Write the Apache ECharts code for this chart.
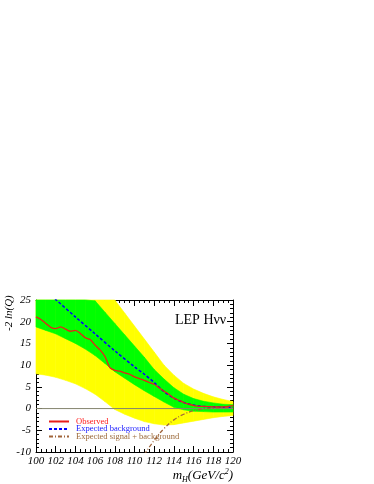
<!DOCTYPE html>
<html>
<head>
<meta charset="utf-8">
<script src="https://cdn.jsdelivr.net/npm/echarts@6/dist/echarts.min.js"></script>
<style>
  html, body { margin: 0; padding: 0; background: #fff; }
  #main { width: 374px; height: 484px; }
</style>
</head>
<body>
<div id="main"></div>
<script>
// band grid (m_H)
var massGrid = [100, 101, 102, 103, 104, 105, 106, 107, 108, 109, 110, 111, 112, 113, 114, 115, 116, 117, 118, 119, 120];
var yellowLow = [8.0, 7.7, 7.2, 6.5, 5.7, 4.6, 3.3, 1.6, -0.2, -1.3, -2.2, -3.0, -3.5, -3.8, -3.7, -3.3, -2.9, -2.5, -2.1, -1.8, -1.6];
var greenLow = [18.8, 18.0, 17.2, 16.1, 15.0, 13.7, 12.2, 10.4, 8.5, 7.0, 5.5, 4.1, 2.8, 1.5, 0.3, -0.3, -0.6, -0.7, -0.8, -0.8, -0.8];
var greenHigh = [31, 31, 31, 31, 31, 30, 24.8, 22.2, 19.6, 17.0, 14.4, 11.8, 9.0, 6.8, 4.8, 3.3, 2.3, 1.7, 1.3, 1.0, 0.9];
var yellowHigh = [36, 36, 36, 36, 36, 34, 32, 28, 25, 22, 19, 16, 13, 10, 7.7, 5.8, 4.5, 3.5, 2.7, 2.1, 1.6];

// observed -2ln(Q)
var obsMass = [100, 100.5, 101, 101.5, 102, 102.5, 103, 103.5, 104, 104.5, 105, 105.5, 106, 106.5, 107, 107.5, 108, 108.5, 109, 109.5, 110, 110.5, 111, 111.5, 112, 112.5, 113, 113.5, 114, 114.5, 115, 115.5, 116, 117, 118, 119, 120];
var observed = [21.1, 20.5, 19.6, 18.7, 18.4, 18.8, 18.3, 17.8, 18.0, 17.3, 16.3, 15.9, 14.6, 13.5, 12.0, 9.4, 8.8, 8.6, 8.2, 7.9, 7.3, 6.9, 6.5, 6.0, 5.6, 4.8, 4.0, 3.3, 2.4, 1.9, 1.4, 1.0, 0.7, 0.5, 0.4, 0.4, 0.7];

// expected background
var bkgMass = [100, 102, 104, 106, 108, 110, 111, 112, 113, 114, 115, 116, 117, 118, 119, 120];
var expBkg = [29.0, 25.1, 21.1, 17.2, 13.3, 9.6, 7.9, 6.0, 3.9, 2.4, 1.4, 0.8, 0.5, 0.4, 0.3, 0.3];

// expected signal + background
var sbMass = [111, 112, 113, 114, 115, 116, 117, 118, 119, 120];
var expSB = [-10.6, -7.3, -4.6, -2.6, -1.3, -0.5, -0.1, 0.1, 0.2, 0.2];

var xTicks = { min: 100, max: 120, interval: 2 };
var yTicks = { min: -10, max: 25, interval: 5 };

function pairs(xs, ys) {
    return xs.map(function (x, i) { return [x, ys[i]]; });
}
// one quad per grid step: [x0, lo0, hi0, x1, lo1, hi1]
function bandSegments(lo, hi) {
    var out = [];
    for (var i = 0; i < massGrid.length - 1; i++) {
        out.push([massGrid[i], lo[i], hi[i], massGrid[i + 1], lo[i + 1], hi[i + 1]]);
    }
    return out;
}
function bandSeries(name, lo, hi, color, z) {
    return {
        name: name, type: 'custom', silent: true, z: z,
        data: bandSegments(lo, hi),
        encode: { x: [0, 3], y: [1, 2, 4, 5] },
        renderItem: function (params, api) {
            var pts = [
                api.coord([api.value(0), api.value(1)]),
                api.coord([api.value(3), api.value(4)]),
                api.coord([api.value(3), api.value(5)]),
                api.coord([api.value(0), api.value(2)])
            ];
            var cs = params.coordSys;
            pts = echarts.graphic.clipPointsByRect(pts, { x: cs.x, y: cs.y, width: cs.width, height: cs.height });
            return {
                type: 'polygon',
                shape: { points: pts },
                style: { fill: color, stroke: color, lineWidth: 0.6 }
            };
        }
    };
}

var serif = '"Liberation Serif", "DejaVu Serif", serif';
var chart = echarts.init(document.getElementById('main'), null, { renderer: 'canvas' });

var axisCommon = {
    axisLine: { show: true, onZero: false, lineStyle: { color: '#000', width: 1 } },
    axisTick: { show: true, inside: true, length: 6, lineStyle: { color: '#000' } },
    splitLine: { show: false }
};

var option = {
    animation: false,
    backgroundColor: '#fff',
    grid: { left: 36, top: 300, width: 197, height: 152, containLabel: false },
    xAxis: [
        Object.assign({}, axisCommon, {
            type: 'value', min: xTicks.min, max: xTicks.max, interval: xTicks.interval,
            minorTick: { show: true, splitNumber: 4, length: 3, lineStyle: { color: '#000' } },
            axisLabel: { margin: 4, color: '#000', fontFamily: serif, fontStyle: 'italic', fontSize: 11 }
        }),
        Object.assign({}, axisCommon, {
            type: 'value', position: 'top', min: xTicks.min, max: xTicks.max, interval: xTicks.interval,
            minorTick: { show: true, splitNumber: 4, length: 3, lineStyle: { color: '#000' } },
            axisLabel: { show: false }
        })
    ],
    yAxis: [
        Object.assign({}, axisCommon, {
            type: 'value', min: yTicks.min, max: yTicks.max, interval: yTicks.interval,
            minorTick: { show: true, splitNumber: 5, length: 3, lineStyle: { color: '#000' } },
            axisLabel: { margin: 5, color: '#000', fontFamily: serif, fontStyle: 'italic', fontSize: 11 }
        }),
        Object.assign({}, axisCommon, {
            type: 'value', position: 'right', min: yTicks.min, max: yTicks.max, interval: yTicks.interval,
            minorTick: { show: true, splitNumber: 5, length: 3, lineStyle: { color: '#000' } },
            axisLabel: { show: false }
        })
    ],
    legend: {
        orient: 'vertical', left: 48, top: 417, itemWidth: 20, itemHeight: 6, itemGap: -1.5,
        padding: 0, selectedMode: false,
        itemStyle: { opacity: 0 },
        textStyle: { fontFamily: serif, fontSize: 8.5, padding: [0, 0, 0, 2] },
        data: [
            { name: 'Observed', textStyle: { color: '#ff2020' } },
            { name: 'Expected background', textStyle: { color: '#2020ff' } },
            { name: 'Expected signal + background', textStyle: { color: '#9c6a3a' } }
        ]
    },
    series: [
        bandSeries('2sigma', yellowLow, yellowHigh, '#ffff00', 1),
        bandSeries('1sigma', greenLow, greenHigh, '#00ff00', 2),
        { name: 'zero', type: 'line', data: [[xTicks.min, 0], [xTicks.max, 0]], symbol: 'none', silent: true, z: 3,
          lineStyle: { color: '#85856e', width: 1 } },
        { name: 'Expected background', type: 'line', data: pairs(bkgMass, expBkg), symbol: 'none', smooth: 0.3,
          lineStyle: { color: '#0000ff', width: 1.5, type: [3, 2] }, itemStyle: { color: '#0000ff' }, z: 4 },
        { name: 'Expected signal + background', type: 'line', data: pairs(sbMass, expSB), symbol: 'none', smooth: 0.4,
          lineStyle: { color: '#a0643a', width: 1.3, type: [4, 2, 1, 2] }, itemStyle: { color: '#a0643a' }, z: 4 },
        { name: 'Observed', type: 'line', data: pairs(obsMass, observed), symbol: 'none', smooth: 0.25,
          lineStyle: { color: '#e8201a', width: 1.3 }, itemStyle: { color: '#e8201a' }, z: 5 }
    ],
    graphic: [
        { type: 'text', left: 175, top: 313, style: { text: 'LEP H\u03bd\u03bd', font: '14px ' + serif, fill: '#000' } },
        { type: 'text', x: 9, y: 331, rotation: Math.PI / 2,
          style: { text: '-2 ln(Q)', font: 'italic 11px ' + serif, fill: '#000', textAlign: 'left', textVerticalAlign: 'middle' } },
        { type: 'text', right: 141, top: 468,
          style: {
              text: '{m|m}{s|H}{t|(GeV/c}{p|2}{t|)}',
              rich: {
                  m: { font: 'italic 13px ' + serif, fill: '#000' },
                  s: { font: 'italic 8px ' + serif, fill: '#000', padding: [8, 0, 0, 0] },
                  t: { font: 'italic 13px ' + serif, fill: '#000' },
                  p: { font: 'italic 8px ' + serif, fill: '#000', padding: [0, 0, 8, 0] }
              }
          } }
    ]
};
chart.setOption(option);
</script>
</body>
</html>
